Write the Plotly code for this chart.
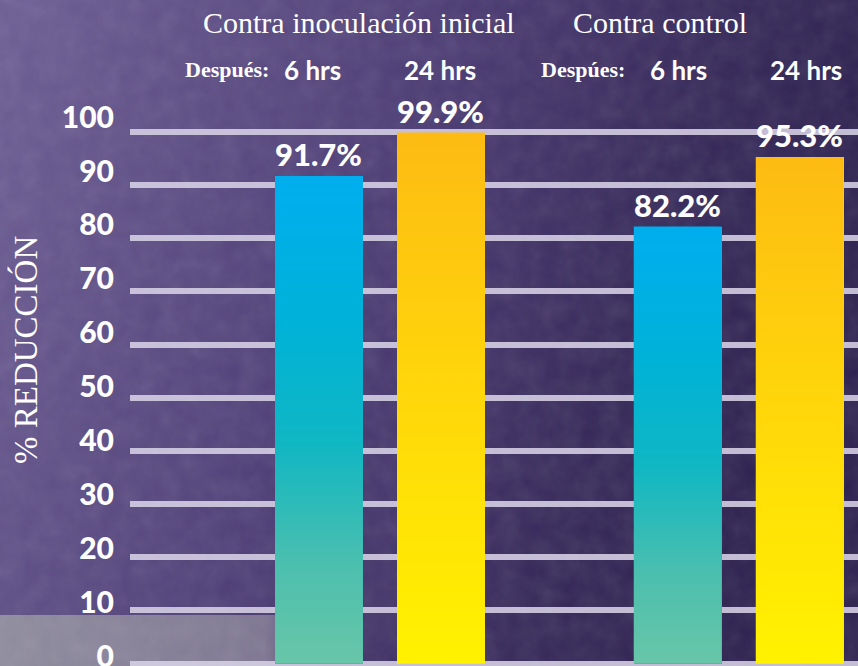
import base64
import plotly.graph_objects as go

# ---------------- data ----------------
groups = ["Contra inoculación inicial", "Contra control"]
group_prefix = ["Después:", "Despúes:"]
times = ["6 hrs", "24 hrs"]
values_6h = [91.7, 82.2]
values_24h = [99.9, 95.3]
y_ticks = [0, 10, 20, 30, 40, 50, 60, 70, 80, 90, 100]
y_title = "% REDUCCIÓN"

# ---------------- layout constants ----------------
GROUP_GAP = 2.94
BAR_W = 0.72
W, H = 858, 666
ML = 130

pos_6h = [g * GROUP_GAP for g in range(len(groups))]
pos_24h = [g * GROUP_GAP + 1 for g in range(len(groups))]

blue_scale = [[0, "#68c6a8"], [0.2, "#4cbfae"], [0.45, "#10b7c3"],
              [0.7, "#00b2d8"], [1, "#00aeef"]]
yellow_scale = [[0, "#fff200"], [0.5, "#ffd70a"], [1, "#fdbb13"]]

fig = go.Figure()

# bars
fig.add_trace(go.Bar(x=pos_6h, y=values_6h, width=BAR_W, name=times[0],
                     marker=dict(color="#1cb4c4", line=dict(width=0)),
                     hoverinfo="skip"))
fig.add_trace(go.Bar(x=pos_24h, y=values_24h, width=BAR_W, name=times[1],
                     marker=dict(color="#ffd70a", line=dict(width=0)),
                     hoverinfo="skip"))

# gradient overlays on the bars
for xs, vs, cs in [(pos_6h, values_6h, blue_scale), (pos_24h, values_24h, yellow_scale)]:
    for x, v in zip(xs, vs):
        fig.add_trace(go.Scatter(
            x=[x - BAR_W / 2, x + BAR_W / 2, x + BAR_W / 2, x - BAR_W / 2, x - BAR_W / 2],
            y=[0, 0, v, v, 0], mode="lines", fill="toself",
            line=dict(width=0, color="rgba(0,0,0,0)"),
            fillgradient=dict(type="vertical", colorscale=cs, start=0, stop=v),
            hoverinfo="skip", showlegend=False))

# dummy trace for the label axis
fig.add_trace(go.Scatter(x=[None], y=[None], yaxis="y2", showlegend=False))

sans = "Lato"
serif = "Liberation Serif"


def px(xp):
    return (xp - ML) / (W - ML)


def py(yp):
    return 1 - yp / H


ann = []
# value labels
for xs, vs in [(pos_6h, values_6h), (pos_24h, values_24h)]:
    for x, v in zip(xs, vs):
        ann.append(dict(x=x, y=v, xref="x", yref="y", text=f"{v}%",
                        showarrow=False, yanchor="bottom", yshift=1,
                        font=dict(family=sans, size=31, color="white", weight=900)))

# group headers
for xp, txt in [(359, groups[0]), (660, groups[1])]:
    ann.append(dict(x=px(xp), y=py(22), xref="paper", yref="paper",
                    text=txt, showarrow=False, xanchor="center", yanchor="middle",
                    font=dict(family=serif, size=30, color="white")))
# sub headers
for xp, txt in [(312, times[0]), (440, times[1]), (678, times[0]), (806, times[1])]:
    ann.append(dict(x=px(xp), y=py(70), xref="paper", yref="paper", text=txt,
                    showarrow=False, xanchor="center", yanchor="middle",
                    font=dict(family=sans, size=26, color="white", weight="bold")))
for xp, txt in [(271, group_prefix[0]), (627, group_prefix[1])]:
    ann.append(dict(x=px(xp), y=py(70), xref="paper", yref="paper",
                    text=txt, showarrow=False, xanchor="right", yanchor="middle",
                    font=dict(family=serif, size=22, color="white", weight="bold")))
# y title
ann.append(dict(x=px(25), y=py(350), xref="paper", yref="paper",
                text=y_title, showarrow=False, textangle=-90,
                xanchor="center", yanchor="middle",
                font=dict(family=serif, size=33, color="white")))

# background image (svg)
svg = f"""<svg xmlns='http://www.w3.org/2000/svg' width='{W}' height='{H}' viewBox='0 0 {W} {H}' preserveAspectRatio='none'>
<defs>
<linearGradient id='g' x1='0' y1='0' x2='1' y2='0.25'>
<stop offset='0' stop-color='#6e5f95'/>
<stop offset='0.45' stop-color='#4f3f78'/>
<stop offset='0.8' stop-color='#36295a'/>
<stop offset='1' stop-color='#2d2150'/>
</linearGradient>
<linearGradient id='gr' x1='0' y1='0' x2='1' y2='0'>
<stop offset='0' stop-color='#908d9f'/>
<stop offset='0.8' stop-color='#7f7793'/>
<stop offset='1' stop-color='#6a5f86' stop-opacity='0'/>
</linearGradient>
<filter id='n' x='0' y='0' width='100%' height='100%'>
<feTurbulence type='fractalNoise' baseFrequency='0.05' numOctaves='3' seed='7'/>
<feColorMatrix type='saturate' values='0'/>
</filter>
</defs>
<rect width='{W}' height='{H}' fill='url(#g)'/>
<rect x='0' y='615' width='330' height='51' fill='url(#gr)'/>
<rect width='{W}' height='{H}' filter='url(#n)' opacity='0.13'/>
</svg>"""
src = "data:image/svg+xml;base64," + base64.b64encode(svg.encode()).decode()

fig.update_layout(
    width=W, height=H,
    autosize=False,
    margin=dict(l=ML, r=0, t=0, b=0, autoexpand=False),
    paper_bgcolor="#4a3b72",
    plot_bgcolor="rgba(0,0,0,0)",
    showlegend=False,
    bargap=0,
    images=[dict(source=src, xref="paper", yref="paper",
                 x=-ML / (W - ML), y=1, sizex=W / (W - ML), sizey=1,
                 xanchor="left", yanchor="top", sizing="stretch", layer="below")],
    xaxis=dict(range=[-1.549, 4.418], showgrid=False, zeroline=False,
               showticklabels=False, showline=False, automargin=False),
    yaxis=dict(range=[-0.47, 124.83], tickvals=y_ticks, showticklabels=False,
               showgrid=True, gridcolor="rgba(215,210,230,0.88)", gridwidth=6,
               zeroline=False, showline=False, automargin=False),
    yaxis2=dict(overlaying="y", side="left", range=[-1.76, 121.71],
                tickvals=y_ticks, ticktext=[str(t) for t in y_ticks],
                showgrid=False, zeroline=False, showline=False, automargin=False,
                ticks="outside", ticklen=9, tickcolor="rgba(0,0,0,0)",
                ticklabeloverflow="allow",
                tickfont=dict(family=sans, size=30, color="white", weight=900)),
    annotations=ann,
)

fig.write_html(
    "out.html",
    config={"displayModeBar": False, "responsive": False},
    post_script="document.body.style.margin='0';",
)
